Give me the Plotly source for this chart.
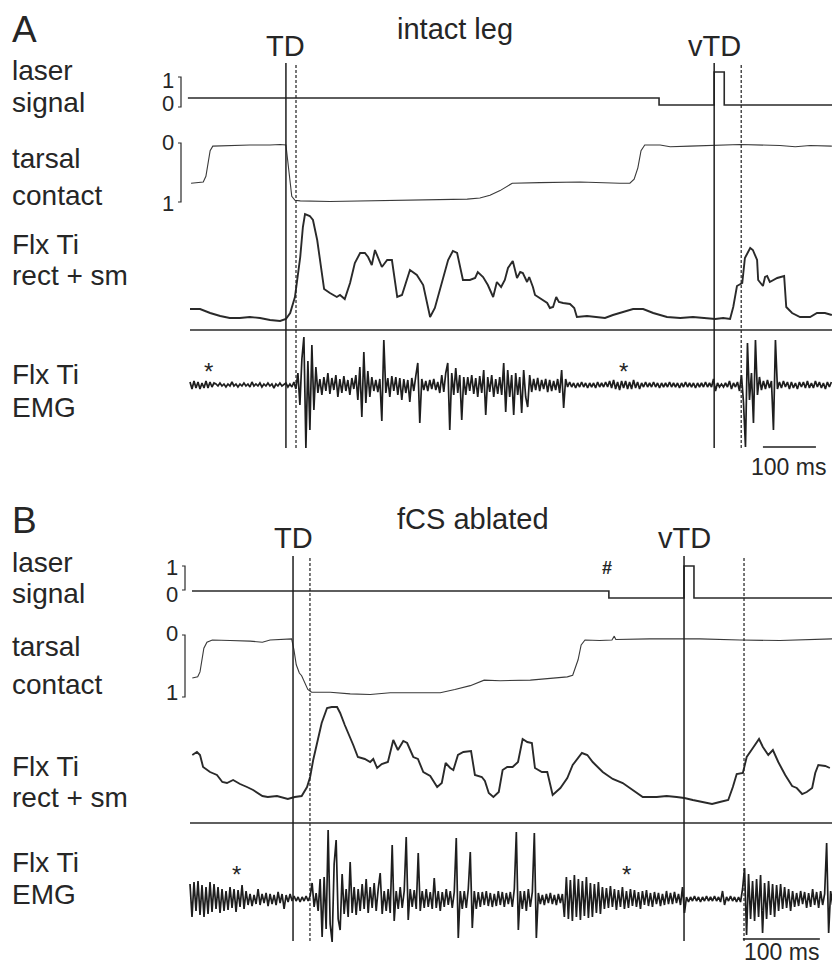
import plotly.graph_objects as go

W, H = 832, 967
FONT = "Liberation Sans, Arial, Helvetica, sans-serif"
INK = "#262626"

# ===================== Panel A: intact leg (time in ms) =====================
A_laser_t = [-4, 885, 885, 989, 989, 1008, 1008, 1212]
A_laser_v = [0, 0, -0.27, -0.27, 1.0, 1.0, -0.27, -0.27]

A_tarsal_t = [2, 25, 30, 34, 38, 43, 75, 113, 151, 170,
              181, 185, 189, 192, 198, 208, 264, 340, 396, 453,
              523, 547, 566, 585, 608, 660, 736, 811, 830, 838,
              845, 851, 858, 887, 906, 943, 991, 1038, 1113, 1142,
              1170, 1211]
A_tarsal_v = [0.67, 0.65, 0.55, 0.30, 0.10, 0.02, 0.01, 0.0, 0.0, -0.01,
              0.0, 0.30, 0.70, 0.90, 0.97, 0.98, 0.99, 0.98, 0.97, 0.96,
              0.95, 0.93, 0.88, 0.80, 0.67, 0.66, 0.65, 0.67, 0.67, 0.60,
              0.40, 0.10, 0.0, 0.0, 0.03, 0.02, 0.0, -0.01, 0.01, 0.03,
              0.01, 0.02]

A_rect_t = [0, 19, 38, 57, 75, 94, 113, 132, 151, 170,
            181, 189, 198, 202, 208, 213, 217, 226, 232, 240,
            245, 253, 264, 277, 283, 292, 302, 311, 321, 330,
            336, 343, 349, 355, 362, 372, 381, 391, 400, 415,
            428, 440, 453, 462, 476, 487, 496, 504, 515, 528,
            538, 543, 553, 562, 572, 579, 587, 594, 600, 609,
            617, 623, 628, 636, 640, 647, 651, 660, 674, 679,
            685, 691, 696, 704, 717, 725, 730, 749, 768, 783,
            798, 817, 836, 855, 874, 900, 925, 949, 976, 991,
            1006, 1019, 1025, 1032, 1042, 1047, 1057, 1062, 1070, 1072,
            1081, 1085, 1089, 1094, 1108, 1121, 1125, 1136, 1151, 1170,
            1183, 1198, 1211]
A_rect_v = [21, 21, 17, 14, 12, 12, 13, 12, 10, 9,
            11, 17, 33, 50, 73, 103, 116, 114, 110, 90,
            70, 41, 37, 33, 35, 31, 47, 67, 77, 77,
            73, 65, 80, 72, 63, 70, 70, 33, 35, 60,
            55, 45, 13, 22, 50, 70, 79, 77, 50, 50,
            52, 58, 53, 45, 33, 48, 43, 50, 62, 69,
            52, 58, 57, 48, 53, 43, 35, 32, 27, 22,
            23, 33, 28, 27, 26, 22, 13, 14, 13, 12,
            15, 18, 21, 21, 17, 13, 12, 13, 12, 11,
            12, 11, 23, 44, 47, 72, 82, 80, 70, 50,
            44, 53, 54, 48, 52, 54, 23, 17, 13, 13,
            17, 17, 15]

A_emg_dt = 3.77  # sample interval, ms
A_emg_v = [3, -4, 4, -3, 3, -4, 2, -3, 4, -3, 3, -2, 2,
           1, -1, 2, -1, 1, -2, 1, -1, 3, -1, 1, -2, 1, -1, 2, -1, 1, -2, 3, -1,
           1, -1, 2, -2, 1, -1, 2, -1, 1, -3, 1, -1, 2, -1, 1,
           2, -2, 1, -2, 3, -4,
           12, -20, 26, 48, -63, 24, -45, 40, -25, 18,
           -8, 6, -10, 8, -6, 12, -9, 7, -5, 10, -12, 6, -8, 9, -6, 5, -10, 7, -4,
           10, -15, 18, -32, 33, -18, 14, -12, 8,
           -6, 5, -7, 6, -36,
           45,
           -8, 7, -12, 9, -6, 8, -10, 7, -15, 6, -8, 5, -17, 7, -6, 9,
           22, -38,
           6, -5, 4, -6, 5, -4, 6, -5, 3, -8, 10, -7, 12,
           22, -45,
           12, -10, 17, -8, 10, -35, 8,
           -10, 8, -6, 10, -9, 7, -12, 9, -8, 15, -30, 8, -7, 10, -12, 6, -9, 8,
           -10, 22, -27, 15, -12, 10, -30, 12, -10, 8, -28, 15, -12, -22, 10,
           -7, 6, -5, 7, -6, 5, -4, 6, -7, 5, -6, 4, -5, 6, -8,
           15, -23, 6,
           -2, 3, -2, 2, -3, 2, -2, 3, -2, 2, -3, 2, -2, 2, -3, 3, -2, 2, -2, 3, -2,
           4, -3, 5, -4, 3, -5, 4, -3, 4, -4, 3, -4, 5, -3, 3, -4,
           2, -2, 3, -2, 2, -2, 3, -2, 2, -3, 2, -2, 2, -2, 3, -2, 2, -2, 2, -3,
           2, -2, 3, -2, 2, -2, 2, -3, 2, -2, 2, -2, 3, -2, 2, -2,
           6, -6,
           2, -2, 1, -2, 2, -2, 4, -4, 2, -2, 3, -6,
           10, -17, -62, 42, -15, 12, -38, 45, -10, 8,
           -5, 4, -4, 5, -3, 4,
           -45, 45,
           -4, 3, -3, 4, -2, 3, -4, 3, -3, 2, -4, 3, -2, 3, -3, 4, -3, 2, -3, 4,
           -2, 3, -3, 2, -4, 3, -2, 3]

A_solid_marks = {"TD": 181, "vTD": 989}
A_dashed_marks = [200, 1040]
A_scalebar_ms = [1081, 1181]
A_asterisks = [34, 817]

# ===================== Panel B: fCS ablated (time in ms) =====================
B_laser_t = [2.6, 544, 544, 641.6, 641.6, 654.5, 654.5, 834]
B_laser_v = [0, 0, -0.28, -0.28, 1.0, 1.0, -0.28, -0.28]

B_tarsal_t = [3, 10, 13, 16, 18, 22, 29, 52, 78, 94,
              104, 132, 135, 138, 142, 145, 149, 153, 158, 182,
              208, 234, 260, 299, 325, 344, 364, 382, 403, 442,
              481, 490, 497, 504, 508, 513, 532, 548, 551, 553,
              597, 662, 714, 766, 834]
B_tarsal_v = [0.69, 0.67, 0.58, 0.36, 0.15, 0.04, 0.0, 0.01, 0.02, 0.04,
              0.0, -0.02, 0.18, 0.45, 0.60, 0.65, 0.76, 0.90, 0.95, 0.95,
              0.98, 0.99, 0.96, 0.96, 0.96, 0.90, 0.83, 0.73, 0.74, 0.73,
              0.69, 0.67, 0.64, 0.36, 0.09, 0.0, 0.01, 0.0, -0.07, -0.01,
              -0.02, -0.02, 0.0, 0.01, -0.02]

B_rect_t = [3, 9, 13, 17, 26, 35, 42, 48, 56, 65,
            74, 82, 94, 101, 113, 119, 127, 136, 145, 152,
            156, 160, 165, 171, 178, 184, 191, 195, 201, 208,
            212, 218, 227, 234, 238, 243, 249, 257, 264, 270,
            277, 282, 290, 296, 303, 312, 321, 327, 332, 338,
            342, 348, 355, 365, 370, 379, 383, 388, 394, 401,
            406, 412, 419, 426, 432, 438, 444, 448, 457, 464,
            470, 471, 481, 490, 497, 509, 516, 523, 536, 549,
            562, 575, 588, 606, 619, 632, 642, 653, 666, 678,
            688, 699, 705, 710, 718, 723, 731, 739, 744, 751,
            757, 764, 773, 782, 788, 795, 801, 808, 812, 816,
            825, 831]
B_rect_v = [68, 71, 68, 56, 51, 48, 41, 40, 43, 39,
            36, 33, 27, 26, 27, 26, 24, 26, 27, 36,
            46, 63, 80, 100, 115, 116, 116, 110, 98, 86,
            78, 66, 64, 61, 64, 55, 59, 61, 83, 73,
            82, 80, 66, 64, 51, 47, 36, 40, 60, 55,
            53, 68, 71, 72, 48, 46, 42, 30, 26, 31,
            53, 56, 56, 61, 84, 81, 80, 55, 51, 51,
            33, 28, 35, 45, 58, 70, 68, 61, 51, 44,
            40, 33, 26, 26, 27, 26, 25, 23, 21, 19,
            21, 23, 36, 49, 50, 66, 75, 84, 76, 68,
            73, 61, 48, 37, 35, 29, 31, 35, 50, 58,
            57, 55]

B_emg_dt = 2.6  # sample interval, ms
B_emg_v = [15, -18, 17, -12, 18, -16, 14, -18, 12, -15, 17, -13, 15, -10, 12, -14,
           10, -12, 8, -11, 12, -9, 10, -13, 9, -8, 14, -10, 8,
           -6, 5, -7, 4, -5, 10, -6, 5, -4, 6, -7, 5, -5, 4, -6, 7, -4, 5, -10, 4, -3, 5,
           -2, 3, -2, 2, -3, 2, -2, 3, -2, 3,
           16, -8, 6,
           -12, 20, -38, 22, -30, 69, -25, -43, 35, 59, -20, -31, 25, -15,
           10, -18, 37, -14, 12, -16, 10, -12, 15, -10, 20, -14, 12, -9, 16, -12, 10,
           26, -15, 8,
           -12, 10, -14, 54, -22, 8, -10,
           12, -9, 8, 62, -21, 10, -8, 9,
           -10, 46, -12, 8, -9, 10, -8, 7, -10, 21, -9, 8, -12, 7, -8, 10, -6, 8, -9, 7,
           61, -39, 8, -10,
           8, -9, 10, 47, -29, 8, -10, 7,
           -8, 7, -6, 8, -7, 6, -8, 5, -7, 8, -6, 7, -8, 6, -5, 7, -8,
           10, 67, -31, 8,
           -10, 8, -12, 10, -8, 7,
           66, -39, 6,
           -5, 4, -6, 5, -4, 6, -5, 4, -6, 5, -4, 5,
           -18, 22, -20, 19, -22, 24, -18, 20, -21, 18, -17, 22, -19, 16, -18, 15, -14, 17, -15,
           12, -10, 11, -9, 13, -8, 10, -11, 9, -8, 12, -10, 8, -9, 10, -7, 9, -8, 7, -10,
           8, -6, 9, -7, 6, -8, 7, -5, 6, -7, 5, -6, 8, -5, 6, -5, 7, -4, 5, -6,
           12, -14,
           2, -3, 2, -2, 3, -2, 2, -3, 2, -2, 3, -2, 2, -2, 3, -2, 2, -3, 8, -6,
           2, -2, 3, -2, 2, -3, 2, -3,
           10, 31, -36, 25, -20, 18, -22, 20, -18, 24, -34, 16, -20, 18, -16, 15, -18, 14,
           -12, 15, -10, 12, -9, 10, -12, 8,
           -8, 6, -7, 8, -5, 7, -9, 6, -8, 10, -6, 7, -9, 8, -6, 5,
           56, -34, 8, -6]

B_solid_marks = {"TD": 133.8, "vTD": 641.6}
B_dashed_marks = [155.8, 719.5]
B_scalebar_ms = [718, 818]
B_asterisks = [61, 567]
B_hash_ms = 542


# ------------------------------------------------------------------ helpers
def px_x(px):
    return px / W


def px_y(py):
    return 1 - py / H


def yaxis_cfg(zero_px, px_per_unit, top_px, bot_px, anchor):
    return dict(domain=[px_y(bot_px), px_y(top_px)],
                range=[(zero_px - bot_px) / px_per_unit, (zero_px - top_px) / px_per_unit],
                anchor=anchor, visible=False, fixedrange=True)


def xaxis_cfg(origin_px, px_per_ms, anchor):
    left = 150
    return dict(domain=[px_x(left), 1.0],
                range=[(left - origin_px) / px_per_ms, (W - origin_px) / px_per_ms],
                anchor=anchor, visible=False, fixedrange=True)


panels = [
    dict(name="A", title="intact leg", title_x=455, xa="x", xkey="xaxis", origin=190, ppm=0.53,
         ys=["y", "y2", "y3", "y4"], ykeys=["yaxis", "yaxis2", "yaxis3", "yaxis4"],
         laser=(A_laser_t, A_laser_v), tarsal=(A_tarsal_t, A_tarsal_v),
         rect=(A_rect_t, A_rect_v), emg=(A_emg_dt, A_emg_v),
         solid=A_solid_marks, dashed=A_dashed_marks, bar=A_scalebar_ms, stars=A_asterisks,
         # pixel geometry: (zero, px per unit, top, bottom)
         geo=[(98, 26, 55, 118), (145, -57, 128, 215), (330, 1, 200, 336), (385, 1, 330, 456)],
         marks_top=63, marks_bot=448, bar_y=447, bar_text_x=788, bar_text_y=467, star_y=371,
         letter_y=29, title_y=29, mark_label_y=46,
         labels=[("laser", 71), ("signal", 102), ("tarsal", 158), ("contact", 195),
                 ("Flx Ti", 244), ("rect + sm", 276), ("Flx Ti", 374), ("EMG", 407)],
         nums=[("1", 80, 175), ("0", 103, 175), ("0", 143, 175), ("1", 203, 175)],
         brackets=[(181, 77, 107), (181, 143, 202)]),
    dict(name="B", title="fCS ablated", title_x=473, xa="x2", xkey="xaxis2", origin=190, ppm=0.77,
         ys=["y5", "y6", "y7", "y8"], ykeys=["yaxis5", "yaxis6", "yaxis7", "yaxis8"],
         laser=(B_laser_t, B_laser_v), tarsal=(B_tarsal_t, B_tarsal_v),
         rect=(B_rect_t, B_rect_v), emg=(B_emg_dt, B_emg_v),
         solid=B_solid_marks, dashed=B_dashed_marks, bar=B_scalebar_ms, stars=B_asterisks,
         geo=[(591, 25, 550, 612), (640, -55, 622, 706), (823, 1, 695, 829), (899, 1, 825, 952)],
         marks_top=556, marks_bot=941, bar_y=939, bar_text_x=781, bar_text_y=952, star_y=874,
         letter_y=520, title_y=519, mark_label_y=538,
         labels=[("laser", 562), ("signal", 593), ("tarsal", 646), ("contact", 684),
                 ("Flx Ti", 766), ("rect + sm", 797), ("Flx Ti", 862), ("EMG", 894)],
         nums=[("1", 567, 179), ("0", 594, 179), ("0", 633, 179), ("1", 692, 179)],
         brackets=[(185, 566, 590), (185, 635, 697)]),
]

fig = go.Figure()
layout = dict(width=W, height=H, margin=dict(l=0, r=0, t=0, b=0),
              paper_bgcolor="white", plot_bgcolor="rgba(0,0,0,0)", showlegend=False)
shapes, annotations = [], []


def text(s, x_px, y_px, size, xanchor="center", yanchor="middle"):
    annotations.append(dict(text=s, x=px_x(x_px), y=px_y(y_px), xref="paper", yref="paper",
                            xanchor=xanchor, yanchor=yanchor, showarrow=False, borderpad=0,
                            font=dict(family=FONT, size=size, color=INK)))


for p in panels:
    layout[p["xkey"]] = xaxis_cfg(p["origin"], p["ppm"], p["ys"][0])
    for yk, g in zip(p["ykeys"], p["geo"]):
        layout[yk] = yaxis_cfg(*g, anchor=p["xa"])

    lt, lv = p["laser"]
    fig.add_trace(go.Scatter(x=lt, y=lv, xaxis=p["xa"], yaxis=p["ys"][0], mode="lines",
                             line=dict(color="#2a2a2a", width=1.6), hoverinfo="skip"))
    tt, tv = p["tarsal"]
    fig.add_trace(go.Scatter(x=tt, y=tv, xaxis=p["xa"], yaxis=p["ys"][1], mode="lines",
                             line=dict(color="#3a3a3a", width=1.1), hoverinfo="skip"))
    rt, rv = p["rect"]
    fig.add_trace(go.Scatter(x=rt, y=rv, xaxis=p["xa"], yaxis=p["ys"][2], mode="lines",
                             line=dict(color="#2a2a2a", width=1.9), hoverinfo="skip"))
    dt, ev = p["emg"]
    et = [i * dt for i in range(len(ev))]
    fig.add_trace(go.Scatter(x=et, y=ev, xaxis=p["xa"], yaxis=p["ys"][3], mode="lines",
                             line=dict(color="#1e1e1e", width=1.7), hoverinfo="skip"))

    # zero line under the rectified/smoothed trace
    t_end = (W - p["origin"]) / p["ppm"]
    shapes.append(dict(type="line", xref=p["xa"], yref=p["ys"][2], x0=0, x1=t_end, y0=0, y1=0,
                       line=dict(color="#2a2a2a", width=1.5)))

    # event markers
    for lbl, t in p["solid"].items():
        shapes.append(dict(type="line", xref=p["xa"], yref="paper", x0=t, x1=t,
                           y0=px_y(p["marks_bot"]), y1=px_y(p["marks_top"]),
                           line=dict(color="#1e1e1e", width=1.5)))
        xpx = p["origin"] + t * p["ppm"]
        text(lbl, xpx, p["mark_label_y"], 29)
    for t in p["dashed"]:
        shapes.append(dict(type="line", xref=p["xa"], yref="paper", x0=t, x1=t,
                           y0=px_y(p["marks_bot"]), y1=px_y(p["marks_top"]),
                           line=dict(color="#1e1e1e", width=1.2, dash="3px,2px")))

    # time scale bar
    shapes.append(dict(type="line", xref=p["xa"], yref="paper", x0=p["bar"][0], x1=p["bar"][1],
                       y0=px_y(p["bar_y"]), y1=px_y(p["bar_y"]),
                       line=dict(color="#1e1e1e", width=1.6)))
    text("100 ms", p["bar_text_x"], p["bar_text_y"], 23)

    for t in p["stars"]:
        text("*", p["origin"] + t * p["ppm"], p["star_y"], 24)

    # amplitude brackets
    for bx, btop, bbot in p["brackets"]:
        path = "M {:.5f} {:.5f} L {:.5f} {:.5f} L {:.5f} {:.5f} L {:.5f} {:.5f}".format(
            px_x(bx - 3), px_y(btop), px_x(bx), px_y(btop),
            px_x(bx), px_y(bbot), px_x(bx - 3), px_y(bbot))
        shapes.append(dict(type="path", xref="paper", yref="paper", path=path,
                           line=dict(color="#2a2a2a", width=1.2)))
    for s, ypx, xr in p["nums"]:
        text(s, xr, ypx, 22, xanchor="right")

    text(p["name"], 11, p["letter_y"], 37, xanchor="left")
    text(p["title"], p["title_x"], p["title_y"], 29)
    for s, ypx in p["labels"]:
        text(s, 11, ypx, 28, xanchor="left")

text("<b>#</b>", 190 + B_hash_ms * 0.77, 568, 18)

layout["shapes"] = shapes
layout["annotations"] = annotations
fig.update_layout(**layout)
fig.write_html("out.html")
